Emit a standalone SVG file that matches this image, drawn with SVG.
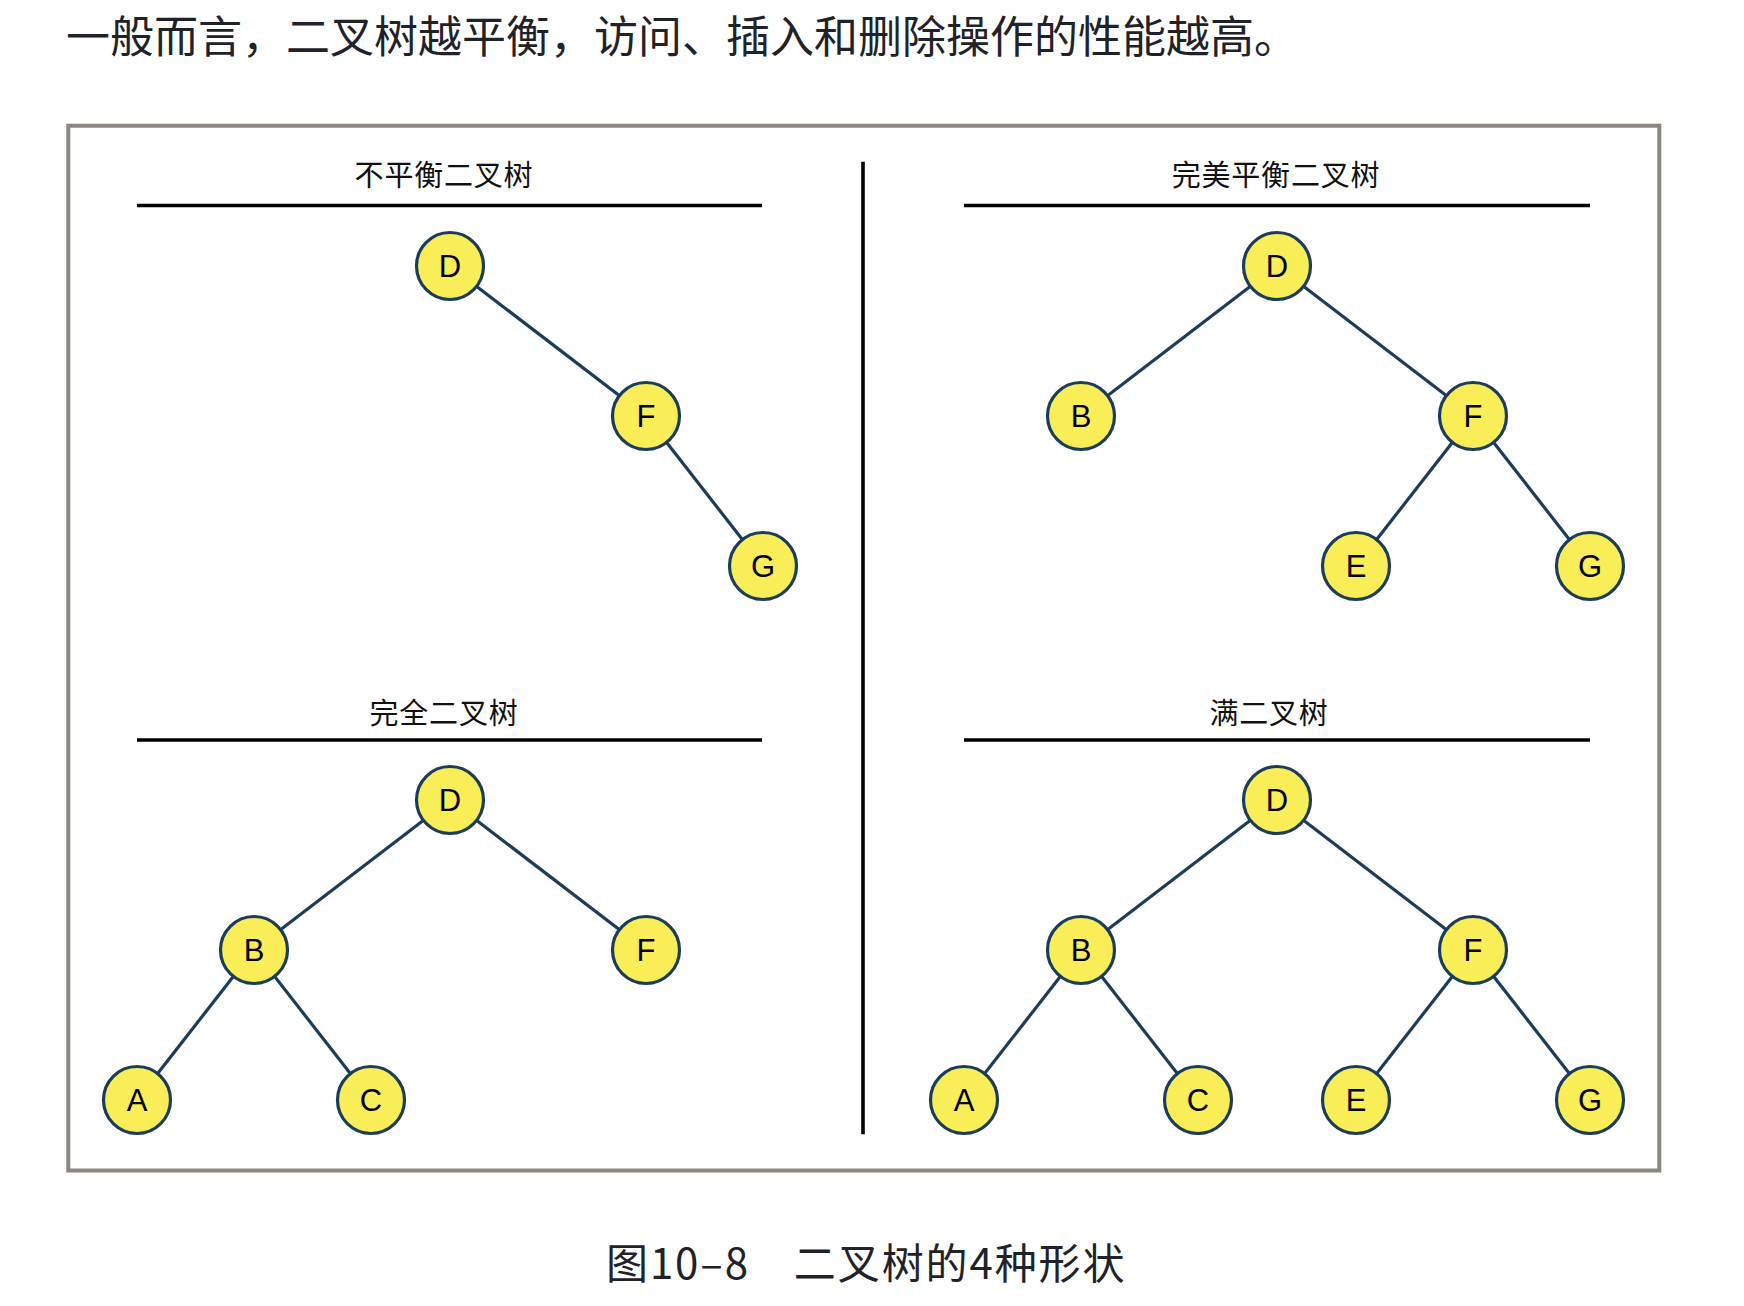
<svg xmlns="http://www.w3.org/2000/svg" width="1744" height="1306" viewBox="0 0 1744 1306">
<style>
.cjk{font-family:"Noto Sans CJK SC","Noto Sans",sans-serif;}
.body{font-size:44px;fill:#1f2329;}
.title{font-size:29px;fill:#111111;text-anchor:middle;letter-spacing:0.8px;}
.rule{stroke:#000000;stroke-width:3.6;}
.node circle{fill:#f9ee57;stroke:#1c3d5a;stroke-width:3.2;}
.node text{font-family:"Liberation Sans",Arial,sans-serif;font-size:31px;fill:#000000;text-anchor:middle;}
.edges line{stroke:#1c3d5a;stroke-width:3.2;}
</style>
<rect x="0" y="0" width="1744" height="1306" fill="#ffffff"/>
<text class="cjk body" x="66" y="53">一般而言，二叉树越平衡，访问、插入和删除操作的性能越高。</text>
<rect x="68.3" y="125.7" width="1591" height="1044.8" fill="#ffffff" stroke="#8e8480" stroke-width="4"/>
<line x1="863" y1="161.7" x2="863" y2="1134.3" stroke="#000000" stroke-width="3.6"/>

<text class="cjk title" x="444" y="185.5">不平衡二叉树</text>
<line class="rule" x1="137" y1="205.5" x2="762" y2="205.5"/>
<text class="cjk title" x="1276" y="185.5">完美平衡二叉树</text>
<line class="rule" x1="964" y1="205.5" x2="1590" y2="205.5"/>
<text class="cjk title" x="444" y="724">完全二叉树</text>
<line class="rule" x1="137" y1="740" x2="762" y2="740"/>
<text class="cjk title" x="1269" y="724">满二叉树</text>
<line class="rule" x1="964" y1="740" x2="1590" y2="740"/>

<g class="edges">
<line x1="450" y1="266" x2="646" y2="416"/>
<line x1="646" y1="416" x2="763" y2="566"/>
<line x1="1277" y1="266" x2="1081" y2="416"/>
<line x1="1277" y1="266" x2="1473" y2="416"/>
<line x1="1473" y1="416" x2="1356" y2="566"/>
<line x1="1473" y1="416" x2="1590" y2="566"/>
<line x1="450" y1="800" x2="254" y2="950"/>
<line x1="450" y1="800" x2="646" y2="950"/>
<line x1="254" y1="950" x2="137" y2="1100"/>
<line x1="254" y1="950" x2="371" y2="1100"/>
<line x1="1277" y1="800" x2="1081" y2="950"/>
<line x1="1277" y1="800" x2="1473" y2="950"/>
<line x1="1081" y1="950" x2="964" y2="1100"/>
<line x1="1081" y1="950" x2="1198" y2="1100"/>
<line x1="1473" y1="950" x2="1356" y2="1100"/>
<line x1="1473" y1="950" x2="1590" y2="1100"/>
</g>

<g id="tl-D" class="node"><circle cx="450" cy="266" r="33.5"/><text x="450" y="277">D</text></g>
<g id="tl-F" class="node"><circle cx="646" cy="416" r="33.5"/><text x="646" y="427">F</text></g>
<g id="tl-G" class="node"><circle cx="763" cy="566" r="33.5"/><text x="763" y="577">G</text></g>

<g id="tr-D" class="node"><circle cx="1277" cy="266" r="33.5"/><text x="1277" y="277">D</text></g>
<g id="tr-B" class="node"><circle cx="1081" cy="416" r="33.5"/><text x="1081" y="427">B</text></g>
<g id="tr-F" class="node"><circle cx="1473" cy="416" r="33.5"/><text x="1473" y="427">F</text></g>
<g id="tr-E" class="node"><circle cx="1356" cy="566" r="33.5"/><text x="1356" y="577">E</text></g>
<g id="tr-G" class="node"><circle cx="1590" cy="566" r="33.5"/><text x="1590" y="577">G</text></g>

<g id="bl-D" class="node"><circle cx="450" cy="800" r="33.5"/><text x="450" y="811">D</text></g>
<g id="bl-B" class="node"><circle cx="254" cy="950" r="33.5"/><text x="254" y="961">B</text></g>
<g id="bl-F" class="node"><circle cx="646" cy="950" r="33.5"/><text x="646" y="961">F</text></g>
<g id="bl-A" class="node"><circle cx="137" cy="1100" r="33.5"/><text x="137" y="1111">A</text></g>
<g id="bl-C" class="node"><circle cx="371" cy="1100" r="33.5"/><text x="371" y="1111">C</text></g>

<g id="br-D" class="node"><circle cx="1277" cy="800" r="33.5"/><text x="1277" y="811">D</text></g>
<g id="br-B" class="node"><circle cx="1081" cy="950" r="33.5"/><text x="1081" y="961">B</text></g>
<g id="br-F" class="node"><circle cx="1473" cy="950" r="33.5"/><text x="1473" y="961">F</text></g>
<g id="br-A" class="node"><circle cx="964" cy="1100" r="33.5"/><text x="964" y="1111">A</text></g>
<g id="br-C" class="node"><circle cx="1198" cy="1100" r="33.5"/><text x="1198" y="1111">C</text></g>
<g id="br-E" class="node"><circle cx="1356" cy="1100" r="33.5"/><text x="1356" y="1111">E</text></g>
<g id="br-G" class="node"><circle cx="1590" cy="1100" r="33.5"/><text x="1590" y="1111">G</text></g>

<text class="cjk" x="606" y="1279" font-size="42" letter-spacing="1.9" fill="#1f2329">图10–8　二叉树的4种形状</text>
</svg>
